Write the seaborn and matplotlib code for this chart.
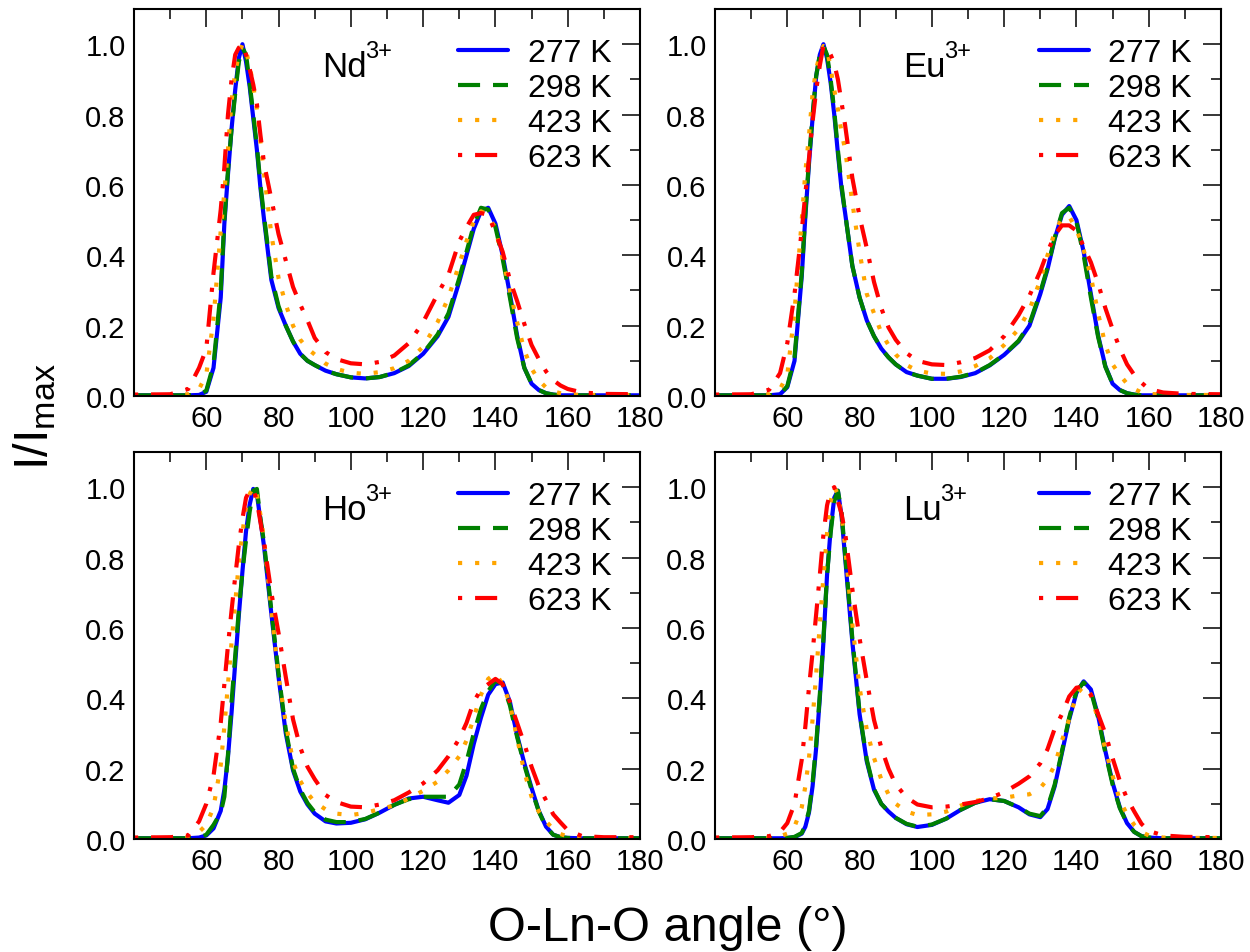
import numpy as np
import pandas as pd
import seaborn as sns
import matplotlib.pyplot as plt

# O-Ln-O angle grid (degrees)
angle = [40, 50, 55, 58, 60, 62, 64, 65, 66, 67, 68, 69, 70, 71, 72, 73, 74, 75, 76, 78,
         80, 82, 84, 86, 88, 90, 93, 96, 100, 104, 108, 112, 116, 120, 124, 127, 130, 132, 134, 136,
         138, 140, 142, 144, 146, 148, 150, 152, 154, 156, 158, 160, 164, 170, 180]

temps = ["277 K", "298 K", "423 K", "623 K"]

# Nd3+
nd_277 = [0.002, 0.002, 0.002, 0.003, 0.012, 0.08, 0.28, 0.49, 0.63, 0.76, 0.87, 0.96, 1.0, 0.95, 0.88, 0.79, 0.70, 0.59, 0.50, 0.33,
          0.25, 0.20, 0.155, 0.12, 0.10, 0.088, 0.072, 0.062, 0.053, 0.05, 0.054, 0.065, 0.085, 0.12, 0.17, 0.225, 0.325, 0.40, 0.475, 0.525,
          0.535, 0.49, 0.40, 0.29, 0.172, 0.08, 0.035, 0.017, 0.008, 0.004, 0.002, 0.002, 0.002, 0.002, 0.002]
nd_298 = [0.002, 0.002, 0.002, 0.004, 0.015, 0.09, 0.30, 0.50, 0.64, 0.76, 0.86, 0.95, 0.99, 0.97, 0.89, 0.80, 0.71, 0.60, 0.51, 0.34,
          0.255, 0.20, 0.155, 0.12, 0.10, 0.088, 0.072, 0.062, 0.053, 0.05, 0.054, 0.066, 0.087, 0.122, 0.175, 0.235, 0.335, 0.41, 0.485, 0.535,
          0.53, 0.48, 0.39, 0.28, 0.165, 0.08, 0.035, 0.017, 0.008, 0.004, 0.002, 0.002, 0.002, 0.002, 0.002]
nd_423 = [0.003, 0.003, 0.005, 0.02, 0.06, 0.22, 0.47, 0.58, 0.70, 0.84, 0.92, 0.97, 1.0, 0.98, 0.94, 0.88, 0.815, 0.72, 0.63, 0.46,
          0.335, 0.26, 0.20, 0.16, 0.135, 0.118, 0.092, 0.077, 0.066, 0.063, 0.068, 0.079, 0.10, 0.14, 0.21, 0.28, 0.375, 0.44, 0.495, 0.525,
          0.515, 0.475, 0.39, 0.30, 0.21, 0.13, 0.078, 0.045, 0.024, 0.013, 0.008, 0.005, 0.003, 0.003, 0.003]
nd_623 = [0.004, 0.005, 0.02, 0.08, 0.134, 0.35, 0.53, 0.65, 0.80, 0.90, 0.97, 0.99, 1.0, 0.97, 0.93, 0.885, 0.83, 0.74, 0.66, 0.56,
          0.46, 0.385, 0.31, 0.26, 0.215, 0.165, 0.125, 0.105, 0.093, 0.09, 0.097, 0.115, 0.15, 0.21, 0.29, 0.345, 0.44, 0.48, 0.515, 0.52,
          0.515, 0.465, 0.41, 0.33, 0.27, 0.205, 0.145, 0.105, 0.07, 0.045, 0.03, 0.02, 0.01, 0.006, 0.005]

# Eu3+
eu_277 = [0.002, 0.002, 0.002, 0.005, 0.025, 0.10, 0.34, 0.51, 0.66, 0.79, 0.91, 0.97, 1.0, 0.96, 0.89, 0.80, 0.69, 0.59, 0.52, 0.37,
          0.28, 0.215, 0.17, 0.135, 0.11, 0.09, 0.068, 0.058, 0.049, 0.049, 0.054, 0.065, 0.087, 0.117, 0.155, 0.20, 0.29, 0.36, 0.447, 0.515,
          0.54, 0.50, 0.41, 0.29, 0.172, 0.085, 0.035, 0.017, 0.008, 0.004, 0.002, 0.002, 0.002, 0.002, 0.002]
eu_298 = [0.002, 0.002, 0.002, 0.005, 0.028, 0.11, 0.35, 0.52, 0.67, 0.80, 0.91, 0.97, 0.995, 0.97, 0.90, 0.81, 0.70, 0.60, 0.52, 0.37,
          0.28, 0.215, 0.17, 0.135, 0.11, 0.09, 0.068, 0.058, 0.049, 0.049, 0.055, 0.066, 0.088, 0.118, 0.157, 0.205, 0.295, 0.365, 0.45, 0.52,
          0.535, 0.495, 0.40, 0.28, 0.168, 0.083, 0.035, 0.017, 0.008, 0.004, 0.002, 0.002, 0.002, 0.002, 0.002]
eu_423 = [0.003, 0.003, 0.005, 0.02, 0.06, 0.24, 0.50, 0.637, 0.74, 0.86, 0.93, 0.97, 0.995, 0.99, 0.93, 0.87, 0.815, 0.75, 0.70, 0.55,
          0.41, 0.29, 0.235, 0.18, 0.145, 0.118, 0.088, 0.072, 0.064, 0.063, 0.07, 0.085, 0.107, 0.145, 0.19, 0.245, 0.33, 0.40, 0.466, 0.505,
          0.51, 0.475, 0.415, 0.34, 0.235, 0.145, 0.09, 0.06, 0.035, 0.02, 0.01, 0.006, 0.004, 0.003, 0.003]
eu_623 = [0.004, 0.005, 0.018, 0.065, 0.15, 0.29, 0.47, 0.575, 0.675, 0.78, 0.87, 0.94, 0.995, 0.99, 0.97, 0.945, 0.90, 0.835, 0.77, 0.62,
          0.51, 0.42, 0.324, 0.25, 0.195, 0.16, 0.122, 0.10, 0.09, 0.088, 0.096, 0.108, 0.13, 0.17, 0.23, 0.285, 0.355, 0.41, 0.457, 0.485,
          0.485, 0.47, 0.425, 0.38, 0.32, 0.25, 0.19, 0.135, 0.09, 0.06, 0.038, 0.02, 0.01, 0.006, 0.005]

# Ho3+
ho_277 = [0.002, 0.002, 0.002, 0.004, 0.01, 0.03, 0.08, 0.14, 0.233, 0.36, 0.50, 0.635, 0.76, 0.875, 0.95, 0.995, 0.98, 0.905, 0.83, 0.64,
          0.46, 0.30, 0.195, 0.135, 0.098, 0.072, 0.05, 0.044, 0.046, 0.056, 0.075, 0.097, 0.115, 0.12, 0.11, 0.103, 0.125, 0.18, 0.27, 0.345,
          0.41, 0.44, 0.445, 0.39, 0.295, 0.215, 0.145, 0.08, 0.035, 0.012, 0.005, 0.003, 0.002, 0.002, 0.002]
ho_298 = [0.002, 0.002, 0.002, 0.004, 0.012, 0.04, 0.075, 0.12, 0.24, 0.39, 0.52, 0.65, 0.76, 0.85, 0.93, 0.99, 0.995, 0.91, 0.84, 0.65,
          0.47, 0.31, 0.20, 0.14, 0.102, 0.076, 0.055, 0.048, 0.048, 0.057, 0.075, 0.097, 0.113, 0.12, 0.12, 0.12, 0.155, 0.22, 0.30, 0.37,
          0.42, 0.45, 0.44, 0.38, 0.29, 0.21, 0.14, 0.078, 0.034, 0.012, 0.005, 0.003, 0.002, 0.002, 0.002]
ho_423 = [0.003, 0.003, 0.005, 0.02, 0.04, 0.09, 0.21, 0.32, 0.44, 0.56, 0.67, 0.785, 0.87, 0.945, 0.98, 1.0, 0.98, 0.92, 0.85, 0.65,
          0.46, 0.33, 0.22, 0.165, 0.13, 0.105, 0.084, 0.072, 0.068, 0.074, 0.085, 0.095, 0.115, 0.137, 0.163, 0.195, 0.235, 0.28, 0.345, 0.41,
          0.455, 0.47, 0.44, 0.385, 0.286, 0.19, 0.12, 0.078, 0.05, 0.028, 0.014, 0.007, 0.004, 0.003, 0.003]
ho_623 = [0.004, 0.005, 0.01, 0.05, 0.10, 0.18, 0.33, 0.44, 0.55, 0.65, 0.745, 0.835, 0.91, 0.97, 0.99, 0.995, 0.96, 0.90, 0.84, 0.70,
          0.585, 0.46, 0.34, 0.26, 0.205, 0.17, 0.125, 0.105, 0.092, 0.09, 0.098, 0.11, 0.132, 0.158, 0.195, 0.235, 0.285, 0.33, 0.39, 0.425,
          0.44, 0.455, 0.44, 0.39, 0.33, 0.27, 0.205, 0.15, 0.11, 0.07, 0.047, 0.025, 0.008, 0.005, 0.005]

# Lu3+
lu_277 = [0.002, 0.002, 0.002, 0.002, 0.003, 0.005, 0.015, 0.035, 0.075, 0.15, 0.26, 0.40, 0.56, 0.75, 0.88, 0.97, 0.99, 0.92, 0.80, 0.56,
          0.355, 0.22, 0.14, 0.10, 0.078, 0.06, 0.042, 0.034, 0.04, 0.058, 0.083, 0.103, 0.113, 0.108, 0.09, 0.07, 0.062, 0.085, 0.15, 0.245,
          0.34, 0.415, 0.448, 0.425, 0.35, 0.25, 0.16, 0.09, 0.045, 0.02, 0.008, 0.004, 0.002, 0.002, 0.002]
lu_298 = [0.002, 0.002, 0.002, 0.002, 0.003, 0.006, 0.017, 0.04, 0.08, 0.16, 0.27, 0.41, 0.57, 0.75, 0.87, 0.96, 0.99, 0.93, 0.81, 0.57,
          0.36, 0.225, 0.142, 0.10, 0.078, 0.06, 0.043, 0.035, 0.041, 0.058, 0.083, 0.103, 0.113, 0.108, 0.09, 0.072, 0.065, 0.09, 0.155, 0.25,
          0.345, 0.42, 0.445, 0.42, 0.345, 0.245, 0.155, 0.088, 0.044, 0.02, 0.008, 0.004, 0.002, 0.002, 0.002]
lu_423 = [0.003, 0.003, 0.004, 0.008, 0.015, 0.035, 0.09, 0.15, 0.23, 0.34, 0.47, 0.61, 0.745, 0.87, 0.96, 1.0, 0.98, 0.92, 0.83, 0.61,
          0.43, 0.31, 0.23, 0.17, 0.127, 0.10, 0.078, 0.068, 0.07, 0.078, 0.095, 0.108, 0.115, 0.117, 0.124, 0.127, 0.145, 0.17, 0.21, 0.28,
          0.34, 0.41, 0.435, 0.41, 0.34, 0.255, 0.18, 0.11, 0.07, 0.04, 0.02, 0.01, 0.004, 0.003, 0.003]
lu_623 = [0.004, 0.005, 0.008, 0.02, 0.045, 0.10, 0.225, 0.32, 0.43, 0.53, 0.64, 0.75, 0.865, 0.948, 0.99, 1.0, 0.96, 0.925, 0.87, 0.71,
          0.57, 0.45, 0.338, 0.26, 0.20, 0.155, 0.118, 0.098, 0.09, 0.092, 0.098, 0.105, 0.116, 0.133, 0.157, 0.178, 0.215, 0.255, 0.314, 0.355,
          0.405, 0.43, 0.433, 0.41, 0.355, 0.30, 0.23, 0.165, 0.115, 0.078, 0.043, 0.023, 0.01, 0.006, 0.005]

ions = ["Nd", "Eu", "Ho", "Lu"]
series = {
    "Nd": [nd_277, nd_298, nd_423, nd_623],
    "Eu": [eu_277, eu_298, eu_423, eu_623],
    "Ho": [ho_277, ho_298, ho_423, ho_623],
    "Lu": [lu_277, lu_298, lu_423, lu_623],
}

sns.set_theme(style="white")
plt.rcParams['font.family'] = ['Liberation Sans', 'DejaVu Sans']
plt.rcParams['mathtext.fontset'] = 'custom'
plt.rcParams['mathtext.rm'] = 'Liberation Sans'
plt.rcParams['mathtext.it'] = 'Liberation Sans:italic'
plt.rcParams['mathtext.bf'] = 'Liberation Sans:bold'
for k in ['text.color', 'axes.labelcolor', 'xtick.color', 'ytick.color', 'axes.edgecolor']:
    plt.rcParams[k] = 'black'

palette = {"277 K": "#0000ff", "298 K": "#008000", "423 K": "#ffa500", "623 K": "#ff0000"}
dashes = {"277 K": "", "298 K": (5.3, 3.1), "423 K": (1.0, 3.1), "623 K": (1.0, 3.1, 5.3, 3.1)}

fig = plt.figure(figsize=(12.5, 9.53), dpi=100)
positions = [[0.1072, 0.5834, 0.4048, 0.4061],
             [0.572, 0.5834, 0.4048, 0.4061],
             [0.1072, 0.1186, 0.4048, 0.4061],
             [0.572, 0.1186, 0.4048, 0.4061]]

for ion, pos in zip(ions, positions):
    ax = fig.add_axes(pos)
    frames = []
    for t, vals in zip(temps, series[ion]):
        frames.append(pd.DataFrame({"angle": angle, "I": vals, "T": t}))
    df = pd.concat(frames, ignore_index=True)
    sns.lineplot(data=df, x="angle", y="I", hue="T", style="T", palette=palette,
                 dashes=dashes, hue_order=temps, style_order=temps,
                 estimator=None, sort=False, linewidth=3.0, legend=False, ax=ax)
    ax.set_xlim(40, 180)
    ax.set_ylim(0, 1.1)
    ax.set_xticks([60, 80, 100, 120, 140, 160, 180])
    ax.set_xticks([50, 70, 90, 110, 130, 150, 170], minor=True)
    ax.set_yticks([0.0, 0.2, 0.4, 0.6, 0.8, 1.0])
    ax.set_yticklabels(["0.0", "0.2", "0.4", "0.6", "0.8", "1.0"])
    ax.set_yticks([0.1, 0.3, 0.5, 0.7, 0.9], minor=True)
    ax.tick_params(which="both", direction="in", top=True, right=True, width=1.1, colors="black")
    ax.tick_params(which="major", length=13, labelsize=21, pad=6)
    ax.tick_params(which="minor", length=7)
    for s in ax.spines.values():
        s.set_linewidth(1.5)
        s.set_color("black")
    ax.set_xlabel("")
    ax.set_ylabel("")
    # ion label with a raised charge
    t = ax.text(0.372, 0.826, ion, transform=ax.transAxes, fontsize=25,
                ha="left", va="baseline")
    ax.annotate("3+", xy=(1, 0), xycoords=t, xytext=(-1, 19), textcoords="offset points",
                fontsize=17, ha="left", va="baseline")
    ax.legend(ax.get_lines()[:4], temps, loc="upper right", frameon=False, fontsize=23,
              handlelength=1.55, handletextpad=0.62, labelspacing=0.16,
              borderaxespad=0.5)

fig.text(0.534, 0.026, "O-Ln-O angle (°)", ha="center", va="center", fontsize=35)
fig.text(0.028, 0.5625, r"I/I$_{\mathrm{max}}$", ha="center", va="center", fontsize=35, rotation=90)

fig.savefig("out.png", dpi=100)
